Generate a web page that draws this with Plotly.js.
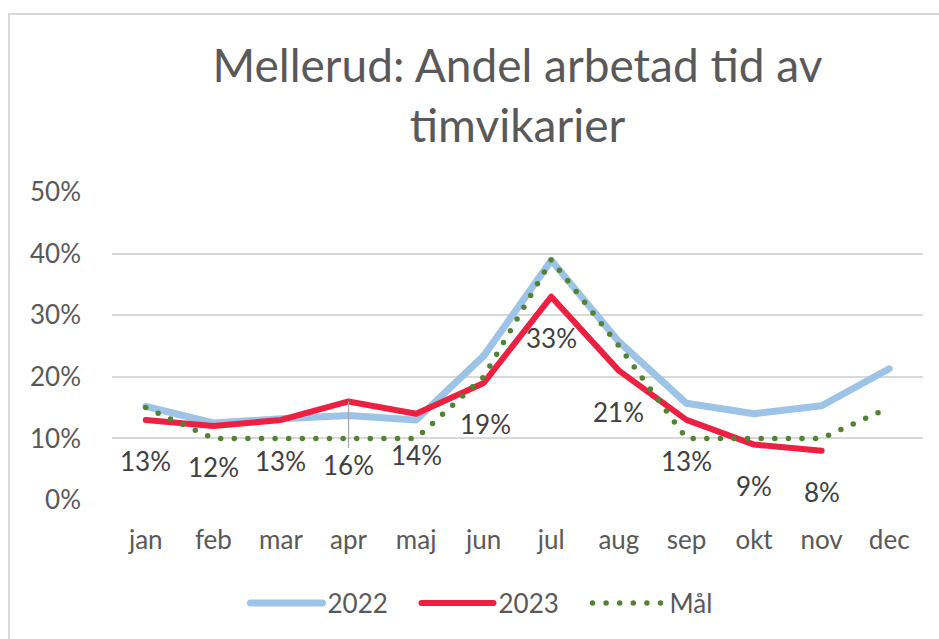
<!DOCTYPE html>
<html>
<head>
<meta charset="utf-8">
<script src="https://cdn.plot.ly/plotly-3.0.1.min.js"></script>
<style>
  html, body { margin: 0; padding: 0; background: #fff; }
  #chart { width: 939px; height: 639px; position: absolute; left: 0; top: 0; }
  #frame { position: absolute; left: 8px; top: 13px; width: 960px; height: 660px;
           border: 2px solid #D9D9D9; pointer-events: none; box-sizing: border-box; }
  path.js-line { stroke-linecap: round !important; stroke-linejoin: round !important; }
</style>
</head>
<body>
<div id="chart"></div>
<div id="frame"></div>
<script>
const months = ["jan","feb","mar","apr","maj","jun","jul","aug","sep","okt","nov","dec"];
const values2022 = [0.152, 0.125, 0.132, 0.137, 0.130, 0.234, 0.389, 0.257, 0.157, 0.140, 0.153, 0.213];
const values2023 = [0.13, 0.12, 0.13, 0.16, 0.14, 0.19, 0.33, 0.21, 0.13, 0.09, 0.08];
const valuesMal  = [0.15, 0.10, 0.10, 0.10, 0.10, 0.20, 0.39, 0.25, 0.10, 0.10, 0.10, 0.15];
const labels2023 = ["13%","12%","13%","16%","14%","19%","33%","21%","13%","9%","8%"];
const FONT = "Lato, 'Open Sans', sans-serif";

const traces = [
  {x: months, y: values2022, name: "2022", type: "scatter", mode: "lines",
   line: {color: "#9DC3E6", width: 7}, hoverinfo: "skip"},
  {x: months.slice(0, values2023.length), y: values2023, name: "2023", type: "scatter", mode: "lines",
   line: {color: "#EE2042", width: 6}, hoverinfo: "skip"},
  {x: months, y: valuesMal, name: "Mål", type: "scatter", mode: "lines",
   line: {color: "#548235", width: 5.5, dash: "0px,13.6px"}, hoverinfo: "skip"}
];

const annotations = labels2023.map((t, i) => {
  const a = {x: months[i], y: values2023[i], xref: "x", yref: "y", text: t,
    font: {family: FONT, size: 26, color: "#404040"}, showarrow: false, yshift: -41};
  if (months[i] === "apr") {
    Object.assign(a, {showarrow: true, arrowhead: 0, arrowwidth: 1.2, arrowcolor: "#A6A6A6",
      ax: 0, ay: 64, standoff: 0, yshift: 0});
  }
  if (months[i] === "jun") a.xshift = 2;
  return a;
});

const layout = {
  width: 939, height: 639,
  margin: {l: 112, r: 16, t: 192, b: 139, autoexpand: false},
  paper_bgcolor: "#FFFFFF", plot_bgcolor: "#FFFFFF",
  font: {family: FONT, color: "#595959", size: 26},
  title: {text: "Mellerud: Andel arbetad tid av<br>timvikarier",
    font: {family: FONT, size: 46, color: "#595959"},
    x: 0.5, xanchor: "center", xref: "paper", y: 1 - 82/639, yref: "container", yanchor: "top"},
  xaxis: {type: "category", range: [-0.5, 11.5], showgrid: false, zeroline: false,
    showline: false, ticks: "", ticklabelstandoff: 22,
    tickfont: {family: FONT, size: 26, color: "#595959"}, fixedrange: true},
  yaxis: {range: [0, 0.5], dtick: 0.1, tickformat: ".0%", showgrid: true,
    gridcolor: "#D9D9D9", gridwidth: 2, zeroline: false, showline: false, ticks: "",
    ticklabelstandoff: 30, tickfont: {family: FONT, size: 26, color: "#595959"}, fixedrange: true},
  showlegend: true,
  legend: {orientation: "h", x: (502 - 112) / 811, xanchor: "center", y: -0.335, yanchor: "middle",
    font: {family: FONT, size: 26, color: "#595959"}, itemwidth: 72,
    entrywidth: 84, entrywidthmode: "pixels", traceorder: "normal"},
  annotations: annotations
};

Plotly.newPlot("chart", traces, layout, {displayModeBar: false, staticPlot: true});
</script>
</body>
</html>
